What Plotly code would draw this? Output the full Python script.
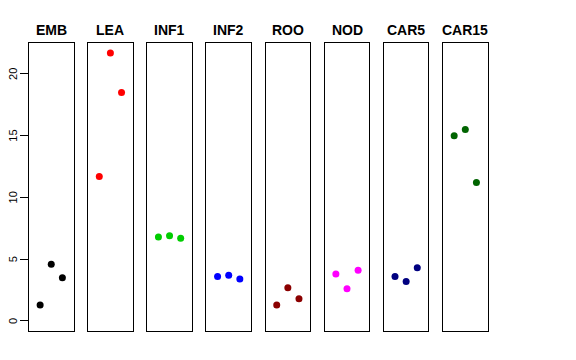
import plotly.graph_objects as go

categories = ["EMB", "LEA", "INF1", "INF2", "ROO", "NOD", "CAR5", "CAR15"]
colors = ["black", "red", "#00CD00", "blue", "#8B0000", "magenta", "#000080", "#006400"]
values = {
    "EMB": [1.3, 4.6, 3.5],
    "LEA": [11.7, 21.7, 18.5],
    "INF1": [6.8, 6.9, 6.7],
    "INF2": [3.6, 3.7, 3.4],
    "ROO": [1.3, 2.7, 1.8],
    "NOD": [3.8, 2.6, 4.1],
    "CAR5": [3.6, 3.2, 4.3],
    "CAR15": [15.0, 15.5, 11.2],
}
replicates = [1, 2, 3]
y_ticks = [0, 5, 10, 15, 20]
y_tick_labels = ["0", "5", "10", "15", "20"]

W, H = 576, 360
OFF = 8  # page body margin offset
left0, pw, step = 29 - OFF, 44.5, 59.15
top, bottom = 43 - OFF, 331 - OFF
title_y = 29.5 - OFF
label_x = 13 - OFF

fig = go.Figure()
annotations = []
for i, cat in enumerate(categories):
    n = "" if i == 0 else str(i + 1)
    x0 = left0 + i * step
    fig.add_trace(go.Scatter(
        x=replicates, y=values[cat], mode="markers",
        marker=dict(color=colors[i], size=7, line=dict(width=0)),
        xaxis="x" + n, yaxis="y" + n, showlegend=False, hoverinfo="skip",
    ))
    fig.layout["xaxis" + n] = dict(
        domain=[x0 / W, (x0 + pw) / W], range=[0, 4],
        showticklabels=False, ticks="", showgrid=False, zeroline=False,
        showline=True, linecolor="black", linewidth=1, mirror=True,
        anchor="y" + n, automargin=False,
    )
    ydict = dict(
        domain=[(H - bottom) / H, (H - top) / H], range=[-0.81, 22.5],
        showgrid=False, zeroline=False, showticklabels=False,
        showline=True, linecolor="black", linewidth=1, mirror=True,
        anchor="x" + n, automargin=False,
    )
    if i == 0:
        ydict.update(tickvals=y_ticks, ticks="outside", ticklen=8,
                     tickcolor="black", tickwidth=1)
    else:
        ydict.update(ticks="")
    fig.layout["yaxis" + n] = ydict
    annotations.append(dict(
        text="<b>" + cat + "</b>", x=(x0 + pw / 2) / W, y=(H - title_y) / H,
        xref="paper", yref="paper", xanchor="center", yanchor="middle",
        showarrow=False, font=dict(family="Liberation Sans", size=14, color="black"),
    ))

for v, lab in zip(y_ticks, y_tick_labels):
    annotations.append(dict(
        text=lab, x=label_x / W, y=v, xref="paper", yref="y",
        xanchor="center", yanchor="middle", textangle=-90, showarrow=False,
        font=dict(family="Liberation Sans", size=11, color="black"),
    ))

fig.update_layout(
    width=W, height=H, autosize=False,
    margin=dict(l=0, r=0, t=0, b=0),
    plot_bgcolor="white", paper_bgcolor="white",
    annotations=annotations,
)
fig.write_html("out.html")
